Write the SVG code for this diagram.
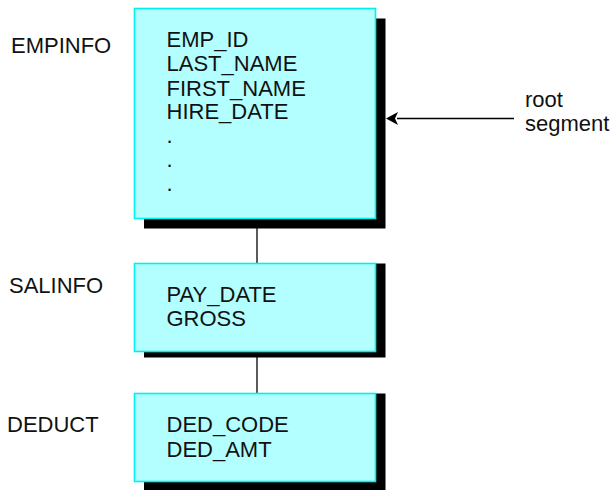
<svg xmlns="http://www.w3.org/2000/svg" width="612" height="490" viewBox="0 0 612 490">
<style>
text{font-family:"Liberation Sans",Arial,sans-serif;font-size:22px;fill:#111}
.box{fill:#b3ffff;stroke:#00f0f0;stroke-width:1.6}
.sh{fill:#000}
.conn{stroke:#333;stroke-width:1.6;fill:none}
</style>
<defs>
<marker id="ah" markerWidth="12" markerHeight="12" refX="11" refY="6" orient="auto" markerUnits="userSpaceOnUse">
<path d="M11,6 L0,0 L3,6 L0,12 Z" transform="translate(11,12) rotate(180)" fill="#000"/>
</marker>
</defs>
<g id="connectors">
<line class="conn" x1="257" y1="228" x2="257" y2="263"/>
<line class="conn" x1="257" y1="357" x2="257" y2="393"/>
<line x1="514" y1="118.5" x2="397" y2="118.5" stroke="#000" stroke-width="1.6"/>
<path d="M386,118.5 L398,112 L395,118.5 L398,125 Z" fill="#000"/>
</g>
<g id="empinfo">
<rect class="sh" x="144" y="18.5" width="241.5" height="210"/>
<rect class="box" x="134.5" y="8.5" width="241" height="210"/>
<text x="11" y="53">EMPINFO</text>
<text x="166.5" y="47">EMP_ID</text>
<text x="166.5" y="71">LAST_NAME</text>
<text x="166.5" y="95.5">FIRST_NAME</text>
<text x="166.5" y="119">HIRE_DATE</text>
<text x="166.5" y="143">.</text>
<text x="166.5" y="167">.</text>
<text x="166.5" y="191">.</text>
</g>
<g id="salinfo">
<rect class="sh" x="144" y="263.5" width="241.5" height="94"/>
<rect class="box" x="134.5" y="263.5" width="241" height="88"/>
<text x="9" y="293">SALINFO</text>
<text x="166.5" y="301.5">PAY_DATE</text>
<text x="166.5" y="326">GROSS</text>
</g>
<g id="deduct">
<rect class="sh" x="144" y="393.5" width="241.5" height="100"/>
<rect class="box" x="134.5" y="393.5" width="241" height="88"/>
<text x="7" y="431.5">DEDUCT</text>
<text x="166.5" y="432">DED_CODE</text>
<text x="166.5" y="456.5">DED_AMT</text>
</g>
<g id="root-label">
<text x="525" y="107">root</text>
<text x="525" y="131">segment</text>
</g>
</svg>
